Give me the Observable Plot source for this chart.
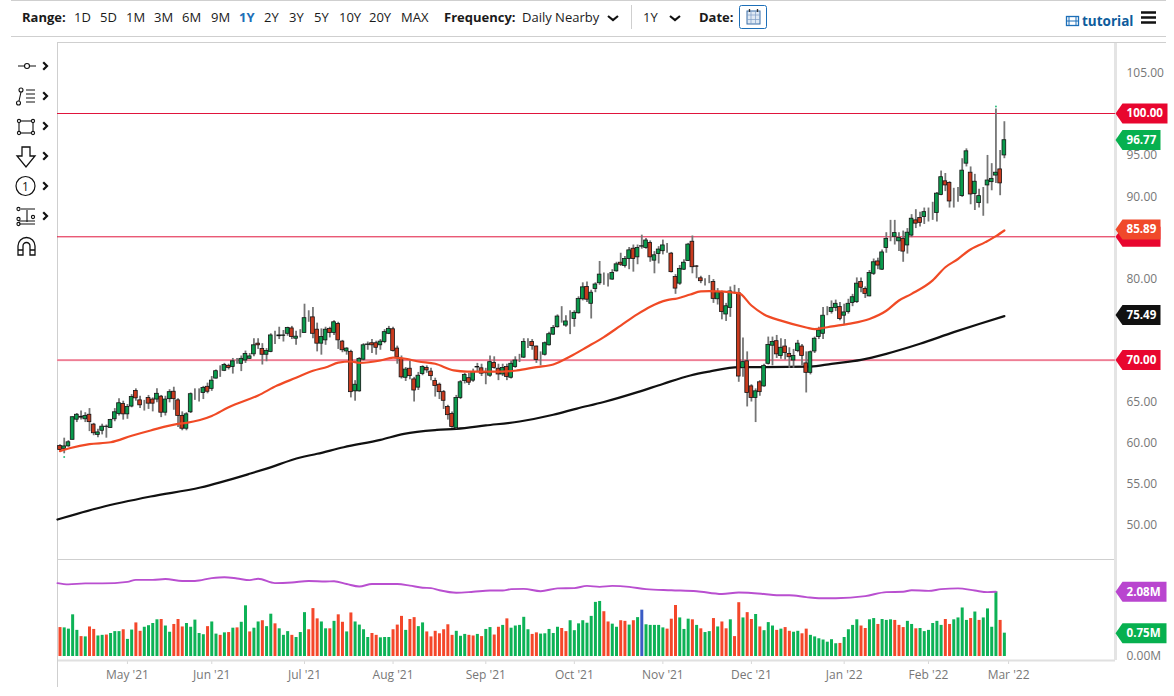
<!DOCTYPE html>
<html><head><meta charset="utf-8">
<script src="https://cdn.jsdelivr.net/npm/d3@7"></script>
<script src="https://cdn.jsdelivr.net/npm/@observablehq/plot@0.6"></script>
<style>
html,body{margin:0;padding:0;background:#fff;overflow:hidden}
body{font-family:"Open Sans",sans-serif;width:1174px;height:696px;position:relative;color:#1a1a1a}
#bar{position:relative;height:37px;width:1174px}
#bar span{position:absolute;top:8px;font-size:13px;line-height:18px;white-space:nowrap}
#bar b{font-weight:700}
.ln{position:absolute;background:#cfcfcf;height:1px}
svg{display:block}
#charts{width:1174px}
</style></head><body>
<div class="ln" style="left:11px;top:0;width:1155px"></div>
<div id="bar"></div>
<div class="ln" style="left:11px;top:36px;width:1155px"></div>
<div id="charts"></div>
<div class="ln" style="left:57px;top:42px;width:1109px"></div>
<svg id="tools" width="56" height="215" style="position:absolute;left:0;top:52px" fill="none" stroke="#111" stroke-width="1.1">
<path d="M18 14h6M30 14h6"/><circle cx="27" cy="14" r="2.5"/>
<circle cx="18.5" cy="51" r="2"/><circle cx="21" cy="38" r="2"/><path d="M19 49l2-9M26 38h9M26 42h9M26 46h9M26 50h9"/>
<rect x="19" y="69" width="14" height="12"/><g fill="#fff"><circle cx="19" cy="69" r="1.6"/><circle cx="33" cy="69" r="1.6"/><circle cx="19" cy="81" r="1.6"/><circle cx="33" cy="81" r="1.6"/></g>
<path d="M22 95h8v9h5l-9 11-9-11h5z" stroke-width="1.3"/>
<circle cx="25.500" cy="134" r="9.500" stroke-width="1.2"/><text x="25.500" y="138.500" font-size="12" text-anchor="middle" fill="#111" stroke="none" font-family="Open Sans">1</text>
<path d="M21 157h14M19 172h16M19 169h16M27 158v12"/><circle cx="18.500" cy="157" r="1.600"/><circle cx="18.500" cy="167" r="1.600"/><circle cx="18.500" cy="172" r="1.600"/><circle cx="33" cy="165" r="1.600"/>
<path d="M18 203v-9a8.500 8.500 0 0 1 17 0v9h-5v-9a3.500 3.500 0 0 0-7 0v9zM18 198h5M30 198h5" stroke-width="1.3"/>
<g stroke-width="2.2" stroke-linecap="square"><path d="M44 11l3 3-3 3M44 41l3 3-3 3M44 71l3 3-3 3M44 101l3 3-3 3M44 131l3 3-3 3M44 161l3 3-3 3"/></g>
</svg>
<script>
// ---------- candles, one entry per trading day ----------
const opens = [59.55,59.2,59.5,60.3,62.75,63.1,62.8,63.35,62.15,60.9,
61.4,61.85,61.75,62.8,63.45,64.65,63.4,64.35,66.25,65.1,
64.7,65.4,65.2,65.2,65.55,63.6,65.25,66.15,65.1,63.2,
61.65,63.65,65.85,66,66,66.75,66.5,67.75,68.65,68.7,
69.3,69.15,69.85,69.55,69.95,70.15,70.7,72,71.35,70.65,
71,72.8,72.9,72.95,73.2,73.85,72.6,73.3,73.3,75.1,
75.2,73.7,72,72.4,73.8,73.3,74.4,72.25,71.05,71,
66.2,66.2,70.05,71.85,72.05,72.05,71.8,72.2,73.2,73.75,
71.4,70.15,67.85,68.95,67.65,66.65,68.3,69.05,68.6,67.45,
67,66.1,64.3,63.45,61.7,65.4,67.45,67.8,67.5,69.1,
69,68.45,68.1,69.65,68.95,68.25,69.15,67.85,69.15,70.2,
70.3,72.2,72.2,71.65,70.3,70.65,71.8,73.1,74,75.25,
74.2,74.85,75,75.7,77.4,78.9,76.85,78.65,79.35,79.8,
79.8,79.8,80.8,81.85,81.45,82.3,83.55,82.5,83.8,83.65,
84.25,82.1,82.9,83.25,83.85,82.95,80.1,79.3,81,82.05,
84.4,81.4,79.95,79.6,79.6,79.5,77.4,78.15,75.55,76.35,
78.35,78.15,69.05,69.85,66.8,65.4,67.3,66.8,69.55,71.75,
72.3,70.5,71.65,70.75,69.95,71.1,71.65,69.6,68.45,71.05,
72.8,73.2,75.85,75.85,76.35,76.45,75.4,75.85,76.95,77.05,
79.5,78.65,77.75,80.5,82,81,83.65,85.7,85,84.45,
84.75,83.95,85.15,87,87.3,87.4,88.2,88.3,87.9,90.1,
91.75,91.55,89.7,89.9,89.95,93.9,92.8,90.2,89.1,90.05,
91.25,91.65,92.45,93.2,94.9];
const closes = [59.05,59.5,60,63.05,63.35,63,63.2,62.45,61.1,61.2,
61.9,61.9,62.7,63.65,64.75,63.4,64.3,65.5,65.35,64.5,
64.7,64.7,64.7,65.9,63.6,65.2,66.1,65.25,63.2,61.65,
63.4,65.85,65.85,66,66.6,66.15,67.5,68.65,68.65,69.4,
69.05,69.85,69.85,70.15,70.75,70.45,71.8,71.8,70.65,71.1,
73,72.8,73,73,73.9,72.8,72.85,73.3,75.1,75.1,
73.2,72,72.8,73.7,73.3,74.6,72.4,71.2,71.4,66.1,
67,70.15,71.8,71.9,71.8,71.5,72.25,73.4,73.8,71.1,
70.35,67.9,68.85,68.05,66.3,68.1,69.15,68.75,68.05,66.85,
66.1,65.05,63.3,61.85,65.4,67.3,68.2,67.25,68.55,69.15,
68.35,68.4,69.75,69.05,68.25,69.05,67.95,69.55,69.95,70.2,
72.2,72.2,71.7,70,70.3,72.05,73.15,73.9,75.3,75.25,
74.7,74.85,75.75,77.45,78.85,77.35,78.2,79.2,80.4,79.8,
79.8,80.6,81.65,81.6,82.3,83.35,82.3,83.65,83.85,84.55,
82.5,82.75,83.45,83.95,83.85,80.7,78.7,81.1,81.85,84.05,
81.3,81.35,79.6,79.6,79.6,77.45,78.25,75.85,76.55,78.35,
78.35,68,69.75,66,65.4,66.2,66.1,69.3,71.85,72.2,
70.7,71.5,70.85,70.35,70.5,72,70.5,68.45,70.95,72.6,
73.6,75.4,75.85,76.35,76.85,75,75.8,76.85,77.65,79.3,
78.8,78.05,80.6,81.9,81.5,83.1,84.75,85.7,85.45,84.85,
83.2,85.5,87.2,86.6,86.7,88,88.2,88.3,90.25,92.25,
91.25,89.3,89.7,89.9,93.05,95.4,90.15,91.7,89.95,90.05,
91.85,92.05,92.8,91.5,96.75];
const highs = [59.7,60.5,60.2,63.1,63.5,63.8,63.6,64.1,62.3,61.6,
62.2,62.1,62.8,64.1,65.3,65,64.6,65.8,66.5,65.6,
65.1,65.7,65.4,66.5,65.7,65.6,66.4,66.7,65.3,63.7,
63.6,66,66.5,66.5,66.8,67.2,68,68.8,69.3,69.6,
69.5,70.2,70.2,70.5,71.1,70.8,72.6,72.6,72,71.4,
73.2,73.5,74,73.6,74,74.1,73.5,73.7,76.8,76,
76.4,74.5,73.8,74,74,74.8,74.6,72.4,71.5,71.2,
67.5,70.3,72,72.2,72.5,72.3,72.5,73.7,74.1,74,
71.7,70.5,69.1,69.9,67.9,68.5,69.3,69.3,69,67.8,
67.2,66.3,64.5,63.7,65.7,67.5,68.4,68.4,68.9,69.6,
69.5,69,70.5,70.4,69.5,69.5,69.5,69.9,70.4,70.7,
72.6,72.6,72.5,71.7,71,72.2,73.4,74.2,75.5,76.5,
75.4,76,76,77.7,79.4,79.5,78.5,79.4,82,80.6,
80.5,81,81.9,83,82.6,83.7,84,84,85.2,84.8,
84.5,83.2,83.8,84.6,84.2,83.1,80.4,81.5,82.2,84.2,
85.1,81.5,80.2,79.9,80.3,79.8,78.7,78.4,76.9,78.9,
79.1,78.7,72.7,71,67,66.5,67.5,69.5,72.8,72.8,
73,72.6,72.5,71.5,71.3,72.4,71.9,71,71.1,72.8,
74,76.4,76.5,77.2,77.3,77,76.8,77.4,78,80,
80,78.9,80.9,82.3,82.4,83.4,85.5,87,87,85.5,
85.7,86,87.7,88.3,88,88.5,88.5,89.2,90.4,93,
92.7,91.7,90.9,91,94.5,95.7,93.5,92.6,90.8,91,
94.9,93.9,100.55,95.5,99];
const lows = [58.95,58.6,59.4,60.3,62.4,62.7,62.4,61.3,60.8,60.55,
60.9,60.5,61.7,62.5,63.2,62.7,62.8,64.2,65,64.1,
63.8,64,63.7,64.8,63,63.2,64.8,63.9,61.8,61.4,
61.4,63.5,65.1,64.9,65.2,65.9,66.2,67.7,67.9,68.6,
68.8,68.3,69.5,68.6,69.6,70.1,70.4,71.3,69.4,69.8,
70.9,71.9,72.5,72.2,72.9,72.5,71.8,72.7,73.3,74.6,
72.6,71,70.6,71.8,72.7,73,71.3,70.9,70.6,65.4,
65,66.1,69.9,71.2,70.8,70.6,71.2,72,73.1,71,
69.5,67.7,67.4,67.6,64.9,66.3,68.1,68.4,67.5,65.5,
65.2,64,62.7,61.7,61.6,65.2,67.1,66.9,67.3,68.6,
68,67,67.9,68.9,67.5,68,67.5,67.7,69,69.7,
70.2,71.4,71.2,69.6,69.3,70.5,71.7,73,73.9,74.5,
74,73.1,74,75.6,77.2,77,75,78.2,79.1,79.1,
78.9,79.7,80.7,81.4,81.2,81,80.7,81.6,83.5,83.5,
81.9,80.5,81.7,82.8,83,80.6,78,79.1,80.9,82,
80.5,79.9,79.3,79,79.3,76.9,76.7,74.9,74.7,75.2,
78,67.3,67.9,64.3,64.9,62.4,65.6,66.7,69.4,69.3,
70.2,70.1,70,69,69,70.9,69.3,66,68.2,70.8,
72.5,72.5,75.4,75.6,75.9,74.8,74.2,75.6,76.5,76.9,
78.2,77.5,77.7,80.3,81,80.9,83,84.4,84,83.2,
81.9,82.9,84.9,86,86.2,86.5,86.8,87,86.8,90,
90.5,88.5,88.5,89.2,89.8,93.5,88.9,88.2,88.5,87.5,
89,90.6,91.5,90,94.5];
// ---------- volume (millions) and bar direction ----------
const volumes = [.93,.92,.88,1.34,.84,.64,.63,.95,.87,.66,
.68,.69,.74,.8,.8,.86,.55,.85,1.08,.81,
.94,.99,1.06,1.18,1.19,.98,.78,1.03,1.19,.95,
1.06,.94,1.17,.74,.7,.96,1.11,.72,.68,.76,
.77,.91,.92,1.1,1.63,.79,.91,1.11,1.15,.96,
1.36,1.05,.89,.68,.8,.68,.61,.77,1.41,.86,
1.54,1.21,1.11,.89,.89,1.13,1.34,1.1,.79,1.4,
1.11,1.01,.86,.61,.74,.68,.6,.61,.61,.86,
1.01,1.29,.84,1.19,1.25,.96,1.08,.79,.63,.81,
.73,.86,1.02,.68,.81,.65,.71,.68,.66,.71,
.64,.87,.93,.69,.94,1,1.21,.91,.98,1,
1.26,.86,.71,.76,.72,.73,.87,.74,.94,.9,
.8,1.15,.83,1.05,1.15,1.07,1.29,1.74,1.77,1.44,
1.11,1.04,.94,1.15,1.13,1.01,1.15,1.25,1.49,1.02,
1,1,1,.92,.88,1.2,1.64,1.24,.87,1.2,
1.18,1,.89,.77,.8,1.22,.95,1.11,.89,1.18,
.64,1.73,1.24,1.41,1.19,1.35,.95,.83,1.09,.98,
.84,.88,.93,.81,.78,.81,.73,.88,.68,.63,
.57,.53,.46,.54,.41,.42,.61,.86,1,1.18,
.98,.9,1.18,1.22,1.03,1.19,1.16,1.18,1.16,1,
.93,1.13,1.03,.89,.9,.8,.84,1.06,1.13,1,
1.19,1.03,1.18,1.24,1.56,1.16,1.22,1.43,1.16,1.24,
1.53,.94,2.08,1.16,.75];
const volumeDirs = ("rggggrgrrg"+"grgggrggrr"+"ggggrggrrr"+"gggggrggrg"+"rgrggrggrg"+"grgggrgggr"+"rrggrgrrgr"+"ggggrrgggr"+"rrgrrggrrr"+"rrrrgggrrg"+
"rggrrgrggg"+"ggrrgggggr"+"rggggggggr"+"rggrrgrgbg"+"ggggrrrggg"+"rgrggrgrrg"+"rrgrrgrggg"+"rgrrggrrgg"+"gggggrgggg"+"rrggrgggrr"+
"rggrgggggg"+"rrggggrgrg"+"gggrg").split("");
// ---------- moving averages, read at the bar numbers listed ----------
const ma50Bars = [0,2.5,7,12,17,21.5,28,30,36,40,47,51.5,56,60,63.5,66,69,71,76,79,82,85,89,93.4,96.6,101,105,108.4,113,117,121,125,129,133,137,140,144,146.4,149.5,152,154,161,164,167,171,177,179,182,187,192,196,199,202,207,210,213,215.5,219.5,222,224];
const ma50Vals = [58.92,59.3,59.77,60,60.8,61.44,62.25,62.37,63.2,64.27,65.7,66.9,67.85,68.7,69.2,69.7,69.83,69.67,69.95,70.3,70.16,69.83,69.55,68.74,68.6,68.6,68.6,68.74,69.15,69.47,70.44,71.6,72.8,74.2,75.6,76.5,77.3,77.5,77.98,78.35,78.4,78.15,76.64,75.55,74.8,73.97,73.76,74,74.4,75,76,77.25,78.06,79.7,81.3,82.3,83.3,84.35,85.08,85.77];
const ma200Bars = [-0.6,9.6,21.5,33.3,45.2,49,57,61,67.3,76,81.6,89.4,94,101,109,117,122.6,129,137,143,149.5,154,161,167,178,183,190,196,204,212,218,224];
const ma200Vals = [50.6,52.07,53.4,54.5,56.2,56.8,58.15,58.6,59.4,60.3,61.03,61.5,61.64,62.05,62.53,63.35,64.1,64.9,66.1,67.1,68.13,68.6,69.14,69.14,69.2,69.55,70.03,70.76,71.98,73.4,74.4,75.35];
const volAvgBars = [-0.6,2,6,10,16,18,22,25,29,32,36,39,42,45,47,51,55,59,63,65,68,71,74,80,83,86,88,90,94,98,102,105,107,110,114,118,122,125,128,131,135,139,145,151,157,161,167,170,173,177,180,184,191,196,200,202,206,209,213,217,220,222];
const volAvgVals = [2.36,2.32,2.35,2.35,2.40,2.465,2.465,2.49,2.43,2.43,2.52,2.55,2.51,2.455,2.50,2.36,2.38,2.43,2.41,2.42,2.33,2.25,2.33,2.33,2.28,2.21,2.20,2.13,2.05,2.08,2.12,2.12,2.165,2.175,2.1,2.19,2.2,2.27,2.24,2.27,2.24,2.165,2.13,2.1,2.01,2.06,2.01,1.97,1.97,1.91,1.875,1.875,1.94,2.07,2.08,2.13,2.11,2.165,2.19,2.12,2.07,2.08];
// ---------- levels, labels and ticks ----------
const levels = [100,85,70];
const priceTicks = [50,55,60,65,80,90,95,105];
const monthBars = [16,36,58,79,101,122,143,164,186,206,225];
const monthNames = ["May '21","Jun '21","Jul '21","Aug '21","Sep '21","Oct '21","Nov '21","Dec '21","Jan '22","Feb '22","Mar '22"];
const priceTags = [
 {v:100,label:"100.00",c:"#e8062f",w:52},
 {v:70,label:"70.00",c:"#e8062f",w:45},
 {v:85,label:"",c:"#e8062f",w:45},
 {v:85.89,label:"85.89",c:"#f0492a",w:45},
 {v:75.49,label:"75.49",c:"#111111",w:45},
 {v:96.77,label:"96.77",c:"#07b04f",w:45}];
const volTags = [{v:2.08,label:"2.08M",c:"#b945cf",w:51},{v:0.75,label:"0.75M",c:"#07b04f",w:51}];
const toolbarItems = [["Range:",22,1],["1D",74],["5D",100],["1M",126],["3M",154],["6M",182],["9M",211],["1Y",239,2],["2Y",264],["3Y",289],["5Y",314],["10Y",339],["20Y",369],["MAX",401],["Frequency:",444,1],["Daily Nearby",522],["1Y",643],["Date:",699,1]];

const candles = opens.map((o,i)=>({i,o,c:closes[i],h:highs[i],l:lows[i],v:volumes[i],d:volumeDirs[i]}));
const series = (xs,ys)=>xs.map((x,k)=>({x,y:ys[k]}));
const GREEN="#0a9a4c", RED="#c93a1e";
const xDomain=[-0.59,250.36];
const font={fontFamily:"'Open Sans',sans-serif",fontSize:"12px",background:"#fff",overflow:"visible"};
const tagShape=(w)=>({draw(c){c.moveTo(0,0);c.lineTo(7,-10);c.lineTo(w,-10);c.lineTo(w,10);c.lineTo(7,10);c.closePath();}});
const tagMarks=(arr)=>arr.flatMap(t=>[
  Plot.dot([t],{y:"v",frameAnchor:"right",symbol:tagShape(t.w),fill:"c",stroke:"none"}),
  t.label ? Plot.text([t],{y:"v",text:"label",frameAnchor:"right",dx:11,textAnchor:"start",fill:"#fff",fontWeight:700,fontSize:11.6}) : null
]);

const main = Plot.plot({
  width:1174,height:522,marginLeft:57,marginRight:59,marginTop:5,marginBottom:0,
  style:font,
  x:{domain:xDomain,axis:null},
  y:{domain:[45.74,108.64],axis:null},
  color:{type:"identity"},
  marks:[
    Plot.axisY({anchor:"right",ticks:priceTicks,tickSize:0,tickPadding:11,dy:1,tickFormat:d=>d.toFixed(2),label:null,color:"#777",fontSize:12}),
    Plot.ruleY([45.74],{stroke:"#cfcfcf"}),
    Plot.ruleX([xDomain[0]],{stroke:"#cfcfcf"}),
    Plot.ruleX([xDomain[1]],{stroke:"#e4e4e4",strokeWidth:3}),
    Plot.ruleY(levels,{stroke:"#f8c4ce",strokeWidth:2.2,filter:d=>d===70}),
    Plot.ruleY(levels,{stroke:"#e0143c",strokeWidth:1,filter:d=>d!==70}),
    Plot.ruleY(levels,{stroke:"#e8506e",strokeWidth:1,filter:d=>d===70}),
    Plot.line(series(ma200Bars,ma200Vals),{x:"x",y:"y",stroke:"#111",strokeWidth:2.2,curve:"monotone-x"}),
    Plot.ruleX(candles,{x:"i",y1:"l",y2:"h",stroke:"#767676",strokeWidth:1.8}),
    Plot.rect(candles,{x1:d=>d.i-0.44,x2:d=>d.i+0.44,y1:"o",y2:"c",fill:d=>d.c>=d.o?GREEN:RED,stroke:"#141414",strokeWidth:0.8}),
    Plot.line(series(ma50Bars,ma50Vals),{x:"x",y:"y",stroke:"#f04a25",strokeWidth:2.2,curve:"monotone-x"}),
    Plot.dot([{x:222,y:100.85},{x:1,y:58.2}],{x:"x",y:"y",r:1,fill:"#2fbf80"}),
    ...tagMarks(priceTags)
  ]
});

const dirColor={g:"#0db256",r:"#f4472a",b:"#3a5cc5"};
const vol = Plot.plot({
  width:1174,height:137,marginLeft:57,marginRight:59,marginTop:0,marginBottom:36,
  style:font,
  x:{domain:xDomain,axis:null},
  y:{domain:[-0.129,3.119],axis:null},
  color:{type:"identity"},
  marks:[
    Plot.axisX({anchor:"bottom",ticks:monthBars,tickSize:4,tickPadding:6,label:null,color:"#777",stroke:"#d8d8d8",fontSize:12,tickFormat:d=>monthNames[monthBars.indexOf(d)]}),
    Plot.axisY({anchor:"right",ticks:[0],tickSize:0,tickPadding:11,tickFormat:d=>d.toFixed(2)+"M",label:null,color:"#777",fontSize:12}),
    Plot.ruleY([-0.129],{stroke:"#e0e0e0",strokeWidth:2}),
    Plot.ruleX([xDomain[0]],{y1:-0.997,y2:3.119,stroke:"#cfcfcf"}),
    Plot.ruleX([xDomain[1]],{y1:-0.129,y2:3.119,stroke:"#e4e4e4",strokeWidth:3}),
    Plot.ruleX(candles,{x:"i",y1:0,y2:"v",stroke:d=>dirColor[d.d],strokeWidth:3}),
    Plot.line(series(volAvgBars,volAvgVals),{x:"x",y:"y",stroke:"#b94fd0",strokeWidth:1.9,curve:"monotone-x"}),
    ...tagMarks(volTags)
  ]
});
document.getElementById("charts").append(main,vol);

const bar=document.getElementById("bar");
for(const [t,x,k] of toolbarItems){
  const s=document.createElement("span");
  s.style.left=x+"px";
  s.innerHTML=k===1?`<b>${t}</b>`:k===2?`<b style="color:#1d6fb8">${t}</b>`:t;
  bar.append(s);
}
bar.insertAdjacentHTML("beforeend",`
<svg width="1174" height="36" style="position:absolute;left:0;top:0" fill="none">
 <g stroke="#111" stroke-width="2.2"><path d="M608 16l5 4 5-4M670 16l5 4 5-4"/></g>
 <path d="M631.500 5v24" stroke="#cfcfcf"/>
 <rect x="739.500" y="5.500" width="27" height="23" rx="2" stroke="#1d6fb8"/>
 <rect x="747" y="11" width="13" height="13" stroke="#3a6ea8" fill="#dfe9f4"/>
 <path d="M747 15h13M751 11v13M755.500 11v13M747 19.500h13" stroke="#7f9fc6" stroke-width=".7"/>
 <path d="M749.500 9v3M757.500 9v3" stroke="#333" stroke-width="1.300"/>
 <rect x="1066.500" y="16.500" width="12" height="9" stroke="#1d6fb8" stroke-width="1.300"/>
 <path d="M1069 16v10M1076 16v10M1066 21h13" stroke="#1d6fb8"/>
 <path d="M1141 12.500h15M1141 17.500h15M1141 22.500h15" stroke="#111" stroke-width="2.300"/>
</svg>
<span style="left:1082px;top:12px;color:#0d5c9c;font-weight:700;font-size:13.500px">tutorial</span>`);
</script>
</body></html>
